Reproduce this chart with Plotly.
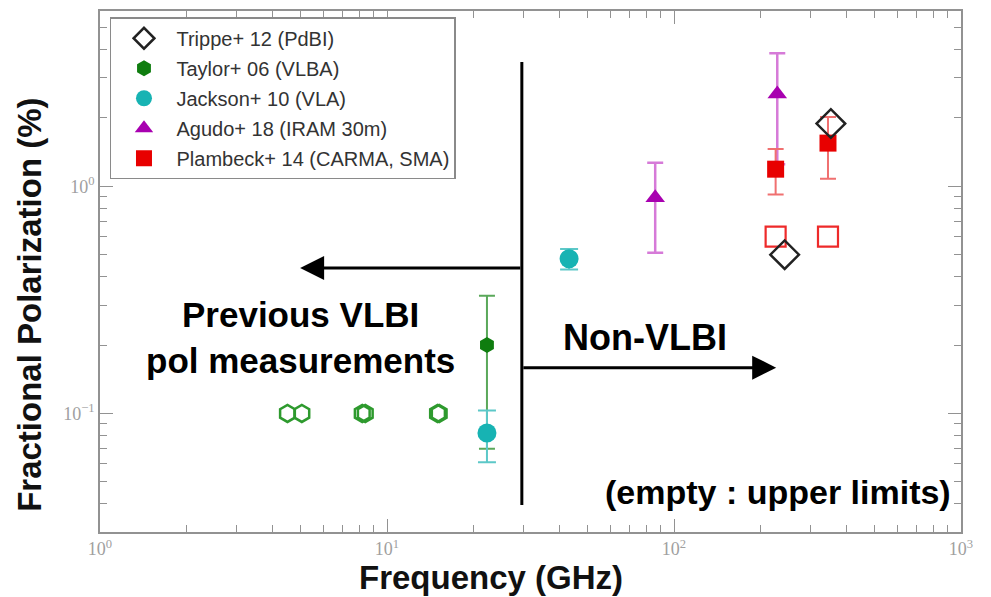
import numpy as np
import plotly.graph_objects as go

# ---------------- data ----------------
# Trippe+ 12 (PdBI) - open diamonds
trippe_freq = [243, 352]
trippe_pol = [0.50, 1.89]

# Taylor+ 06 (VLBA) - detection and upper limits
taylor_freq = [22.3]
taylor_pol = [0.20]
taylor_err = [0.13]
taylor_ul_freq = [4.5, 5.05, 8.2, 8.4, 15.0, 15.2]
taylor_ul_pol = [0.1, 0.1, 0.1, 0.1, 0.1, 0.1]

# Jackson+ 10 (VLA)
jackson_freq = [22.3, 43.1]
jackson_pol = [0.082, 0.48]
jackson_err = [0.021, 0.05]

# Agudo+ 18 (IRAM 30m)
agudo_freq = [86, 229]
agudo_pol = [0.89, 2.55]
agudo_err = [0.38, 1.30]

# Plambeck+ 14 (CARMA, SMA)
plambeck_freq = [226, 344]
plambeck_pol = [1.19, 1.55]
plambeck_err = [0.27, 0.47]
plambeck_ul_freq = [226, 344]
plambeck_ul_pol = [0.60, 0.60]

# annotation geometry (data units)
divider_freq = 29.5
divider_pol = [0.0395, 3.53]
left_arrow_tip = 4.98
left_arrow_pol = 0.437
right_arrow_tip = 227
right_arrow_pol = 0.159

x_decades = [1, 10, 100, 1000]
x_decade_text = ["10<sup>0</sup>", "10<sup>1</sup>", "10<sup>2</sup>", "10<sup>3</sup>"]
y_decades = [0.1, 1]
y_decade_text = ["10<sup>\u22121</sup>", "10<sup>0</sup>"]

SANS = "Liberation Sans, Arial, sans-serif"
SERIF = "Liberation Serif, DejaVu Serif, serif"
AXCOL = "#929292"

# all tick positions (decades labelled, 2..9 unlabelled)
x_all = sorted(x_decades + [m * d for d in [1, 10, 100] for m in range(2, 10)])
x_all_text = [x_decade_text[x_decades.index(v)] if v in x_decades else "" for v in x_all]
y_all = sorted(y_decades + [m * d for d in [0.01, 0.1, 1] for m in range(2, 10)])
y_all_text = [y_decade_text[y_decades.index(v)] if v in y_decades else "" for v in y_all]

fig = go.Figure()

# Taylor upper limits (open hexagons)
fig.add_trace(go.Scatter(
    x=taylor_ul_freq, y=taylor_ul_pol, mode="markers",
    marker=dict(symbol="hexagon-open", size=17, color="#2e9a2e", line=dict(width=2.5, color="#2e9a2e")),
    showlegend=False, legendgroup="taylor", hoverinfo="x+y"))
# Taylor detection
fig.add_trace(go.Scatter(
    x=taylor_freq, y=taylor_pol, mode="markers", name="Taylor+ 06 (VLBA)",
    marker=dict(symbol="hexagon", size=16, color="#0f7d0f"),
    error_y=dict(type="data", array=taylor_err, visible=True, color="#5aa85a", thickness=2, width=8),
    legendgroup="taylor", legendrank=2))
# Jackson
fig.add_trace(go.Scatter(
    x=jackson_freq, y=jackson_pol, mode="markers", name="Jackson+ 10 (VLA)",
    marker=dict(symbol="circle", size=19, color="#17b3b3"),
    error_y=dict(type="data", array=jackson_err, visible=True, color="#5cc8c8", thickness=2, width=9),
    legendgroup="jackson", legendrank=3))
# Agudo
fig.add_trace(go.Scatter(
    x=agudo_freq, y=agudo_pol, mode="markers", name="Agudo+ 18 (IRAM 30m)",
    marker=dict(symbol="triangle-up", size=17, color="#a800b0"),
    error_y=dict(type="data", array=agudo_err, visible=True, color="#d67ad8", thickness=2.5, width=8),
    legendgroup="agudo", legendrank=4))
# Plambeck upper limits (open squares)
fig.add_trace(go.Scatter(
    x=plambeck_ul_freq, y=plambeck_ul_pol, mode="markers",
    marker=dict(symbol="square-open", size=20, color="#ee2a2a", line=dict(width=2.2, color="#ee2a2a")),
    showlegend=False, legendgroup="plambeck", hoverinfo="x+y"))
# Plambeck detections
fig.add_trace(go.Scatter(
    x=plambeck_freq, y=plambeck_pol, mode="markers", name="Plambeck+ 14 (CARMA, SMA)",
    marker=dict(symbol="square", size=17, color="#e80000"),
    error_y=dict(type="data", array=plambeck_err, visible=True, color="#f07070", thickness=2, width=8),
    legendgroup="plambeck", legendrank=5))
# Trippe
fig.add_trace(go.Scatter(
    x=trippe_freq, y=trippe_pol, mode="markers", name="Trippe+ 12 (PdBI)",
    marker=dict(symbol="diamond-open", size=22, color="#222222", line=dict(width=2.5, color="#222222")),
    legendgroup="trippe", legendrank=1))

# empty trace so the overlay axes (long decade ticks) get drawn
fig.add_trace(go.Scatter(x=[], y=[], xaxis="x2", yaxis="y2", mode="markers",
                         showlegend=False, hoverinfo="skip"))

# vertical divider
fig.add_shape(type="line", xref="x", yref="y",
              x0=divider_freq, x1=divider_freq, y0=divider_pol[0], y1=divider_pol[1],
              line=dict(color="black", width=3))

# arrows (annotations on log axes take log10 positions)
for tip, pol in [(left_arrow_tip, left_arrow_pol), (right_arrow_tip, right_arrow_pol)]:
    fig.add_annotation(x=np.log10(tip), y=np.log10(pol), ax=np.log10(divider_freq), ay=np.log10(pol),
                       xref="x", yref="y", axref="x", ayref="y", text="",
                       showarrow=True, arrowhead=2, arrowsize=1.6, arrowwidth=3, arrowcolor="black")

fig.add_annotation(x=np.log10(5.0), y=np.log10(0.215), xref="x", yref="y",
                   text="<b>Previous VLBI<br>pol measurements</b>", showarrow=False,
                   font=dict(family=SANS, size=35, color="black"), align="center")
fig.add_annotation(x=np.log10(79), y=np.log10(0.215), xref="x", yref="y",
                   text="<b>Non-VLBI</b>", showarrow=False,
                   font=dict(family=SANS, size=36, color="black"))
fig.add_annotation(x=np.log10(940), y=np.log10(0.045), xref="x", yref="y",
                   xanchor="right", text="<b>(empty : upper limits)</b>", showarrow=False,
                   font=dict(family=SANS, size=34, color="black"))

# axis titles
fig.add_annotation(x=-0.0813, y=0.436, xref="paper", yref="paper", textangle=-90,
                   xanchor="center", yanchor="middle",
                   text="<b>Fractional Polarization (%)</b>", showarrow=False,
                   font=dict(family=SANS, size=33, color="#111111"))
fig.add_annotation(x=0.454, y=-0.088, xref="paper", yref="paper",
                   xanchor="center", yanchor="middle",
                   text="<b>Frequency (GHz)</b>", showarrow=False,
                   font=dict(family=SANS, size=33, color="#111111"))

base = dict(type="log", showgrid=False, zeroline=False,
            showline=True, linecolor=AXCOL, linewidth=1.5, mirror="ticks",
            ticks="inside", tickcolor=AXCOL, tickwidth=1.3)

layout_axes = dict(
    xaxis=dict(**base, range=[0, 3], tickmode="array", tickvals=x_all, ticktext=x_all_text, ticklen=7,
               tickfont=dict(family=SERIF, size=18, color="#a0a0a0")),
    yaxis=dict(**base, range=[-1.522, 0.772], tickmode="array", tickvals=y_all, ticktext=y_all_text, ticklen=7,
               tickfont=dict(family=SERIF, size=18, color="#a0a0a0")),
    # overlay axes carrying the longer decade ticks
    xaxis2=dict(**base, range=[0, 3], overlaying="x", side="bottom", tickmode="array",
                tickvals=x_decades, ticklen=13, showticklabels=False),
    yaxis2=dict(**base, range=[-1.522, 0.772], overlaying="y", side="left", tickmode="array",
                tickvals=y_decades, ticklen=13, showticklabels=False),
)

fig.update_layout(
    width=991, height=597,
    margin=dict(l=100, r=30, t=9, b=65),
    paper_bgcolor="white", plot_bgcolor="white",
    legend=dict(x=0.0116, y=0.988, xanchor="left", yanchor="top",
                bgcolor="white", bordercolor="#8a8a8a", borderwidth=1.5,
                font=dict(family=SANS, size=20, color="#333333"),
                traceorder="grouped", tracegroupgap=1, itemsizing="trace", itemwidth=55),
    showlegend=True,
    **layout_axes,
)

fig.write_html("out.html")
